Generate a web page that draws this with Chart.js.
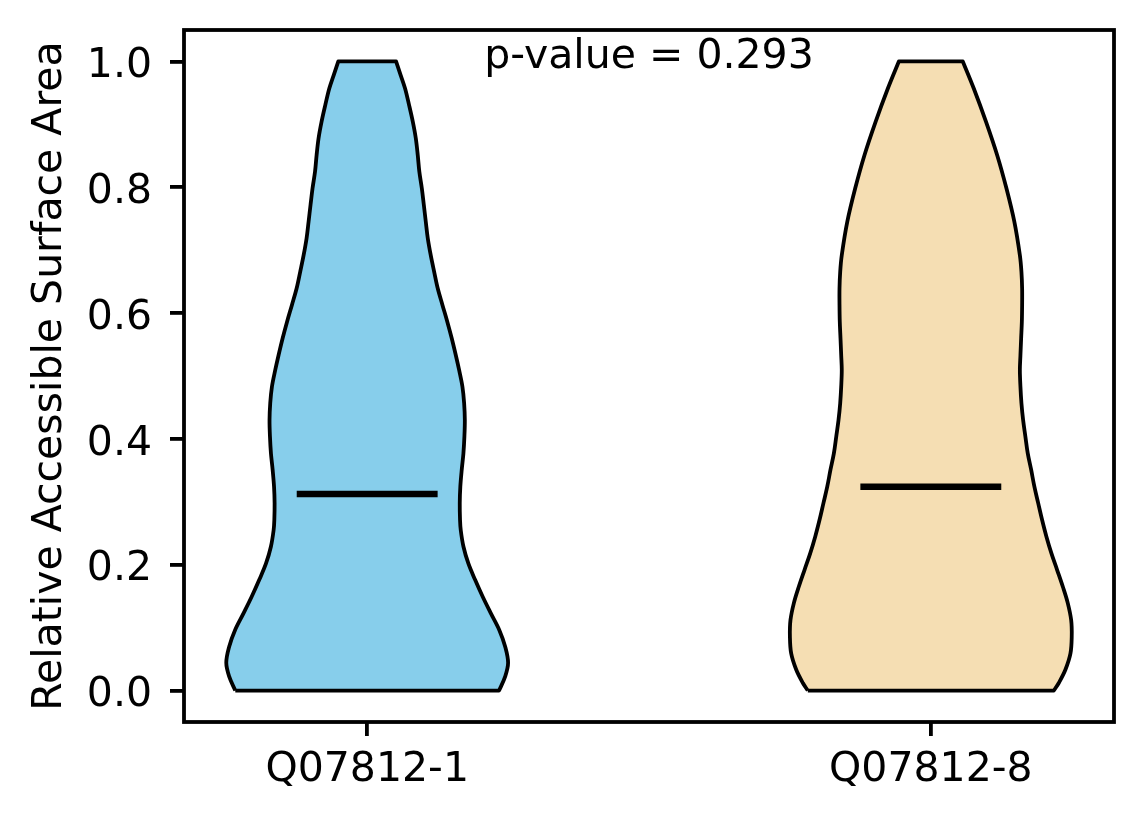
<!DOCTYPE html>
<html>
<head>
<meta charset="utf-8">
<script src="https://cdn.jsdelivr.net/npm/chart.js@4.4.1/dist/chart.umd.min.js"></script>
<style>
html, body { margin: 0; padding: 0; background: #ffffff; }
#wrap { width: 1144px; height: 824px; position: relative; }
</style>
</head>
<body>
<div id="wrap"><canvas id="c"></canvas></div>
<script>
// ---------------- data ----------------
const categories = ['Q07812-1', 'Q07812-8'];

// violin 1: KDE evaluation levels and relative density (1 = widest)
const levels1  = [0.000, 0.022, 0.044, 0.070, 0.096, 0.123, 0.149, 0.176, 0.202, 0.229, 0.255, 0.271, 0.298, 0.324, 0.351, 0.377, 0.404, 0.430, 0.457, 0.483, 0.510, 0.533, 0.560, 0.586, 0.613, 0.639, 0.666, 0.692, 0.719, 0.745, 0.772, 0.798, 0.825, 0.851, 0.878, 0.904, 0.931, 0.957, 0.978, 1.000];
const density1 = [0.936, 0.979, 1.000, 0.979, 0.938, 0.877, 0.820, 0.766, 0.718, 0.683, 0.664, 0.659, 0.657, 0.661, 0.671, 0.683, 0.690, 0.693, 0.688, 0.676, 0.652, 0.629, 0.600, 0.569, 0.534, 0.501, 0.475, 0.451, 0.430, 0.416, 0.402, 0.388, 0.370, 0.359, 0.345, 0.324, 0.297, 0.269, 0.238, 0.205];

// violin 2
const levels2  = [0.000, 0.012, 0.033, 0.059, 0.086, 0.112, 0.139, 0.165, 0.192, 0.218, 0.245, 0.271, 0.298, 0.324, 0.351, 0.377, 0.404, 0.430, 0.457, 0.483, 0.510, 0.533, 0.560, 0.586, 0.613, 0.639, 0.666, 0.692, 0.745, 0.798, 0.851, 0.904, 0.957, 1.000];
const density2 = [0.873, 0.908, 0.955, 0.991, 1.000, 0.996, 0.972, 0.937, 0.896, 0.856, 0.820, 0.790, 0.762, 0.735, 0.712, 0.688, 0.671, 0.655, 0.643, 0.636, 0.632, 0.636, 0.641, 0.646, 0.648, 0.648, 0.643, 0.632, 0.593, 0.537, 0.471, 0.392, 0.305, 0.227];

const medians = [0.3125, 0.324];
const yTickValues = [0.0, 0.2, 0.4, 0.6, 0.8, 1.0];
const pValueText = 'p-value = 0.293';
const yAxisTitle = 'Relative Accessible Surface Area';

// ---------------- style / geometry constants ----------------
const fillColors = ['#87CEEB', '#F5DEB3'];
const violinWidth = 0.5;
const FONT = 'DejaVu Sans';
const FS = 41;
const LW = 3.8;

function violinOutline(center, levels, dens) {
  const half = violinWidth / 2;
  const n = levels.length;
  const pts = [];
  for (let i = 0; i < n; i++) pts.push({ x: center - dens[i] * half, y: levels[i] });
  pts.push({ x: center - dens[n - 1] * half, y: levels[n - 1] }); // sharp corner
  for (let i = n - 1; i >= 0; i--) {
    pts.push({ x: center + dens[i] * half, y: levels[i] });
    if (i === n - 1 || i === 0) pts.push({ x: center + dens[i] * half, y: levels[i] });
  }
  pts.push({ x: center - dens[0] * half, y: levels[0] }); // close
  return pts;
}

const violinData = [
  violinOutline(1, levels1, density1),
  violinOutline(2, levels2, density2)
];

const datasets = [];
violinData.forEach((pts, i) => {
  datasets.push({
    data: pts,
    order: 2,
    showLine: true,
    fill: 'shape',
    backgroundColor: fillColors[i],
    borderColor: '#000000',
    borderWidth: LW,
    tension: 0.35,
    pointRadius: 0,
    borderJoinStyle: 'round'
  });
});
medians.forEach((m, i) => {
  const c = i + 1;
  datasets.push({
    data: [{ x: c - violinWidth / 4, y: m }, { x: c + violinWidth / 4, y: m }],
    order: 0,
    showLine: true,
    fill: false,
    borderColor: '#000000',
    borderWidth: 6.5,
    borderCapStyle: 'butt',
    tension: 0,
    pointRadius: 0
  });
});

const framePlugin = {
  id: 'frameAndText',
  afterDraw(chart) {
    const { ctx, chartArea, scales } = chart;
    ctx.save();
    ctx.strokeStyle = '#000';
    ctx.lineWidth = LW;
    ctx.strokeRect(chartArea.left, chartArea.top, chartArea.right - chartArea.left, chartArea.bottom - chartArea.top);
    ctx.fillStyle = '#000';
    ctx.font = FS + 'px "' + FONT + '"';
    ctx.textAlign = 'center';
    ctx.textBaseline = 'alphabetic';
    const px = scales.x.getPixelForValue(1.5);
    const py = scales.y.getPixelForValue(1.0) + 0.17 * FS;
    ctx.fillText(pValueText, px, py);
    ctx.restore();
  }
};

Chart.defaults.font.family = FONT;
Chart.defaults.font.size = FS;
Chart.defaults.color = '#000';

new Chart(document.getElementById('c'), {
  type: 'scatter',
  data: { datasets },
  plugins: [framePlugin],
  options: {
    responsive: true,
    maintainAspectRatio: false,
    animation: false,
    devicePixelRatio: 1,
    events: [],
    layout: { padding: { top: 30, right: 30, left: 0, bottom: 0 } },
    plugins: { legend: { display: false }, tooltip: { enabled: false } },
    scales: {
      x: {
        type: 'linear',
        min: 0.675,
        max: 2.325,
        afterBuildTicks(scale) { scale.ticks = categories.map((_, i) => ({ value: i + 1 })); },
        afterFit(scale) { scale.height = 102; scale.paddingLeft = 0; scale.paddingRight = 0; },
        ticks: {
          callback(v, idx) { return categories[idx]; },
          padding: 10,
          maxRotation: 0,
          autoSkip: false,
          font: { size: FS, family: FONT }
        },
        grid: { drawOnChartArea: false, drawTicks: true, tickLength: 14, color: '#000', lineWidth: LW },
        border: { display: false }
      },
      y: {
        type: 'linear',
        min: -0.05,
        max: 1.05,
        afterBuildTicks(scale) { scale.ticks = yTickValues.map(v => ({ value: v })); },
        afterFit(scale) { scale.width = 184; scale.paddingTop = 0; scale.paddingBottom = 0; },
        ticks: {
          callback(v) { return Number(v).toFixed(1); },
          padding: 18,
          labelOffset: 5,
          autoSkip: false,
          font: { size: FS, family: FONT }
        },
        title: {
          display: true,
          text: yAxisTitle,
          padding: { top: 26, bottom: 0 },
          font: { size: FS, family: FONT }
        },
        grid: { drawOnChartArea: false, drawTicks: true, tickLength: 14, color: '#000', lineWidth: LW },
        border: { display: false }
      }
    }
  }
});
</script>
</body>
</html>
